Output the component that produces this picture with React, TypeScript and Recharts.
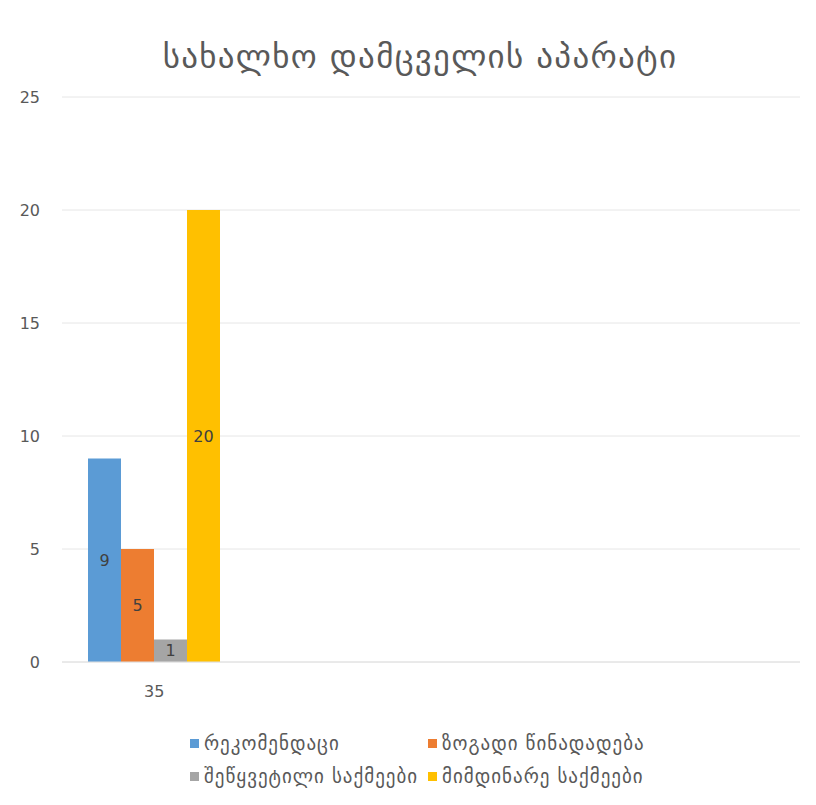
import React from "react";
import { BarChart, Bar, XAxis, YAxis, CartesianGrid, Legend, LabelList } from "recharts";

// Office categories (only the first one carries values)
const categories = ["35", "", "", ""];
const recommendations = [9, null, null, null];
const generalProposals = [5, null, null, null];
const closedCases = [1, null, null, null];
const ongoingCases = [20, null, null, null];
const yTicks = [0, 5, 10, 15, 20, 25];

const seriesNames = {
  rec: "რეკომენდაცი",
  gen: "ზოგადი წინადადება",
  closed: "შეწყვეტილი საქმეები",
  ongoing: "მიმდინარე საქმეები",
};

const colors = {
  rec: "#5B9BD5",
  gen: "#ED7D31",
  closed: "#A5A5A5",
  ongoing: "#FFC000",
};

const data = categories.map((name, i) => ({
  key: i,
  name,
  rec: recommendations[i],
  gen: generalProposals[i],
  closed: closedCases[i],
  ongoing: ongoingCases[i],
}));

const FONT = "'DejaVu Sans', 'Noto Sans', sans-serif";

const legendOrder: (keyof typeof colors)[] = ["rec", "gen", "closed", "ongoing"];

const LegendContent = () => (
  <div
    style={{
      display: "grid",
      gridTemplateColumns: "238px 236px",
      rowGap: 11,
      marginLeft: 190,
      fontFamily: FONT,
      fontSize: 19,
      letterSpacing: 1.0,
      color: "#595959",
    }}
  >
    {legendOrder.map((k) => (
      <div key={k} style={{ display: "flex", alignItems: "center", whiteSpace: "nowrap" }}>
        <span style={{ width: 9, height: 9, background: colors[k], marginRight: 5, display: "inline-block" }} />
        <span>{seriesNames[k]}</span>
      </div>
    ))}
  </div>
);

export default function App() {
  return (
    <div style={{ position: "absolute", left: 0, top: 0, width: 816, height: 805, background: "#fff" }}>
      <div
        style={{
          position: "absolute",
          top: 37,
          left: 12,
          width: 816,
          textAlign: "center",
          fontFamily: FONT,
          fontSize: 33,
          letterSpacing: 1.3,
          color: "#595959",
        }}
      >
        სახალხო დამცველის აპარატი
      </div>
      <BarChart
        width={816}
        height={805}
        data={data}
        margin={{ top: 97, right: 16, bottom: 113, left: 0 }}
        barCategoryGap={26}
        barGap={0}
      >
        <CartesianGrid vertical={false} stroke="#e6e6e6" />
        <XAxis
          dataKey="key"
          tickFormatter={(v) => categories[v as number]}
          axisLine={{ stroke: "#e0e0e0" }}
          tickLine={false}
          tick={{ fill: "#595959", fontSize: 16, fontFamily: FONT }}
          height={30}
          tickMargin={18}
        />
        <YAxis
          domain={[0, 25]}
          ticks={yTicks}
          axisLine={false}
          tickLine={false}
          width={62}
          tickMargin={16}
          tick={{ fill: "#595959", fontSize: 16, fontFamily: FONT }}
        />
        <Legend
          layout="horizontal"
          verticalAlign="middle"
          align="center"
          wrapperStyle={{ top: 732, left: 0, width: 816 }}
          content={<LegendContent />}
        />
        {legendOrder.map((k) => (
          <Bar key={k} dataKey={k} name={seriesNames[k]} fill={colors[k]} isAnimationActive={false}>
            <LabelList dataKey={k} position="center" fill="#404040" fontSize={16} fontFamily={FONT} />
          </Bar>
        ))}
      </BarChart>
    </div>
  );
}
